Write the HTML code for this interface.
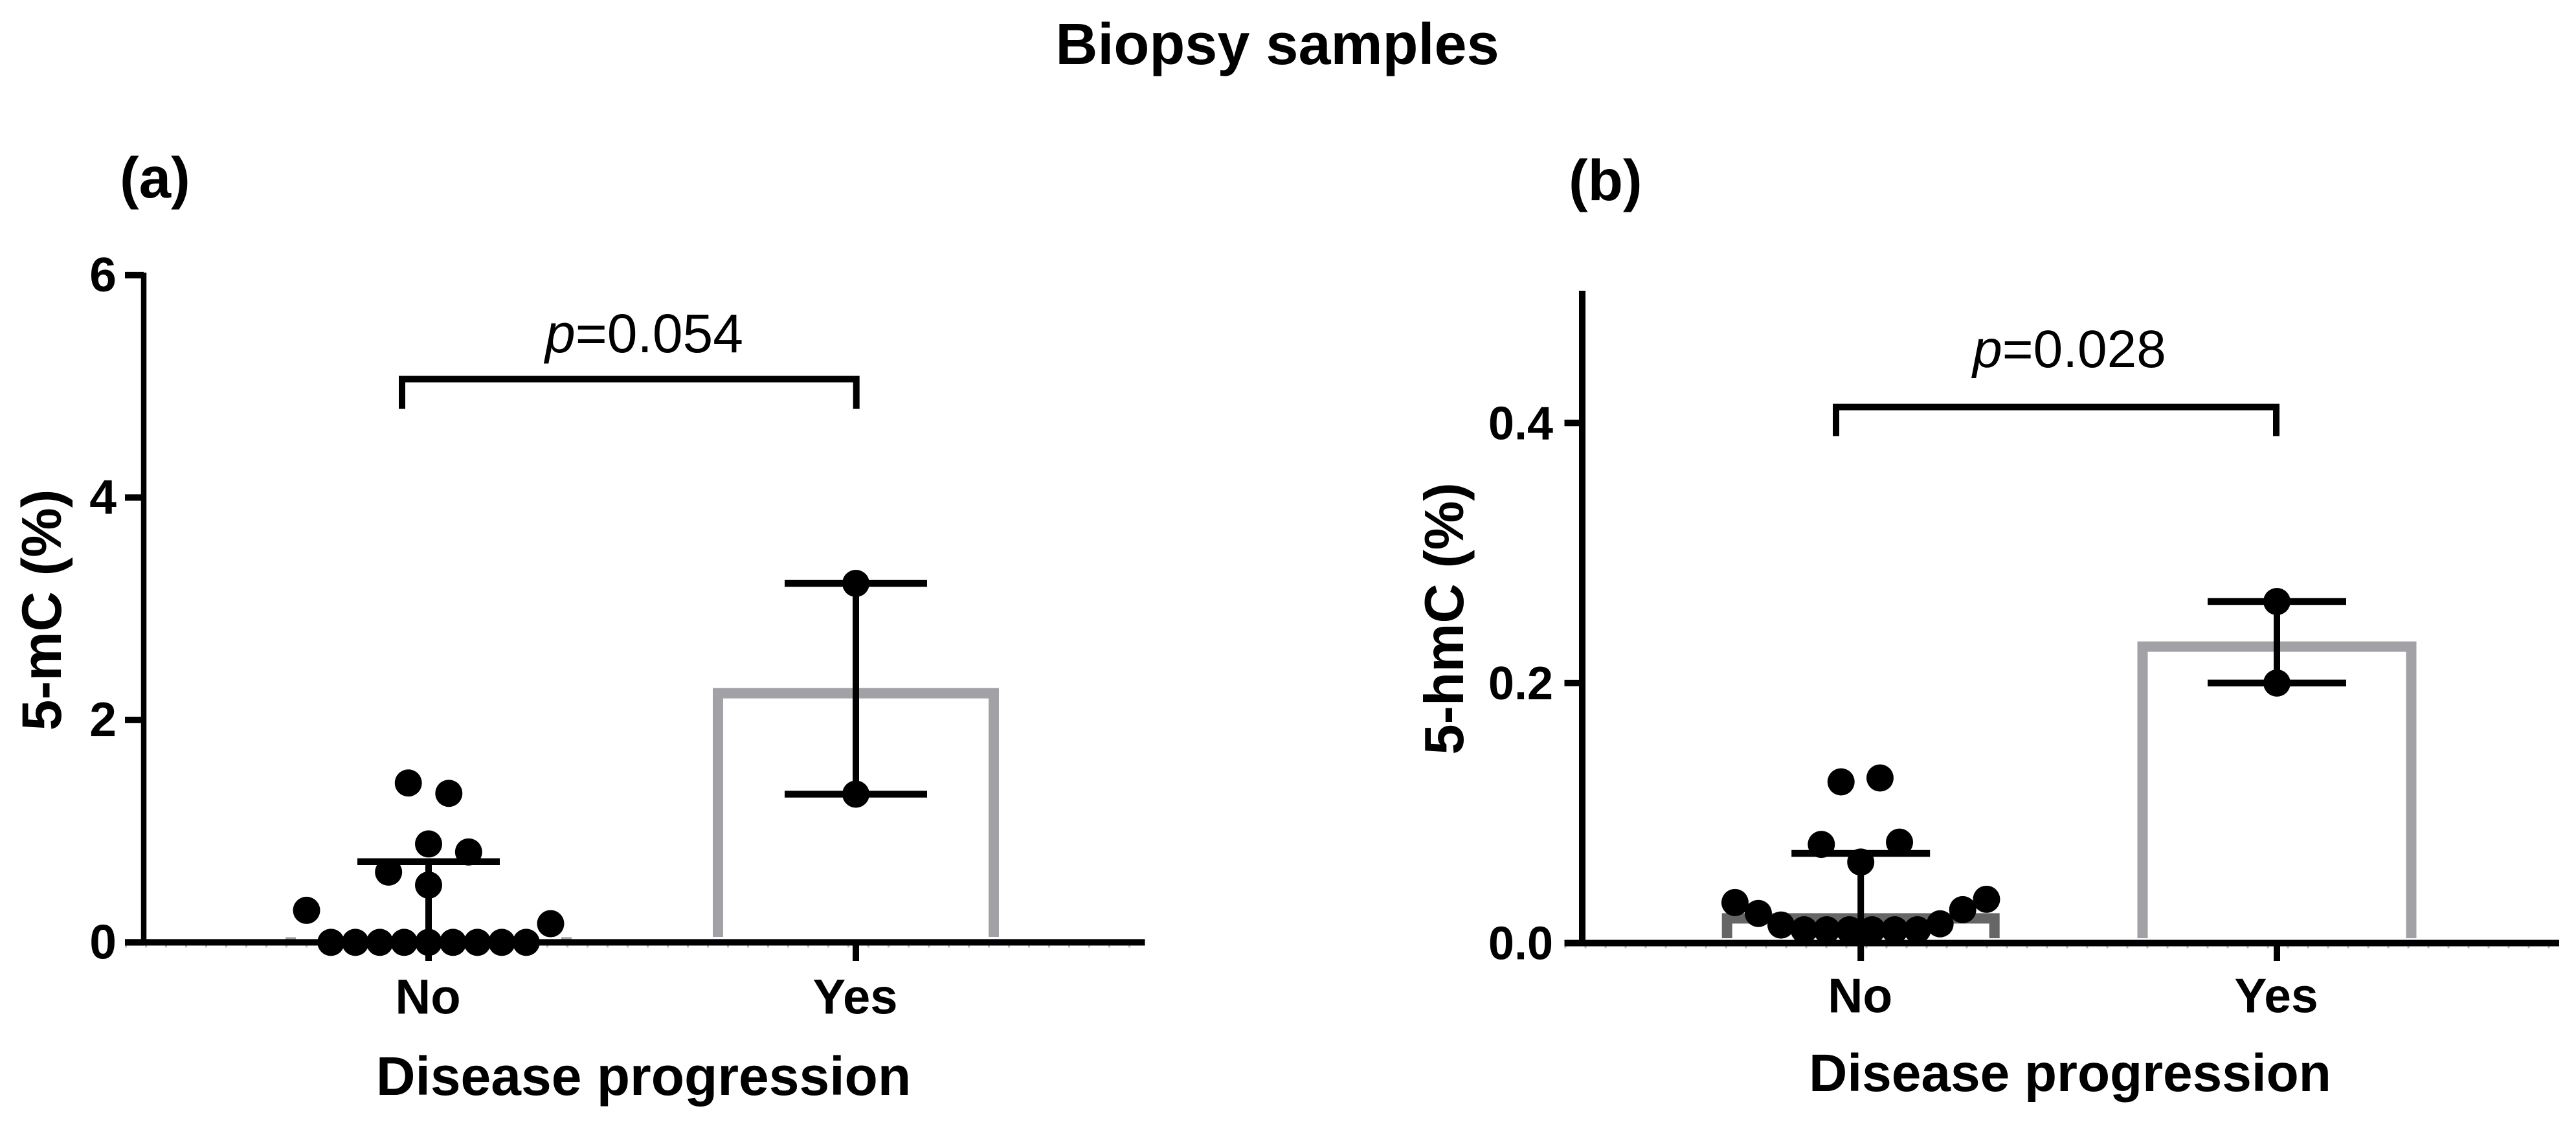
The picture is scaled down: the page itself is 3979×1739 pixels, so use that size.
<!DOCTYPE html>
<html lang="en">
<head>
<meta charset="utf-8">
<title>Biopsy samples</title>
<style>
html,body{margin:0;padding:0;background:#fff;}
svg{display:block;}
text{font-family:"Liberation Sans",Arial,sans-serif;fill:#000;}
.b{font-weight:bold;}
</style>
</head>
<body>
<svg id="chart" xmlns="http://www.w3.org/2000/svg" width="3979" height="1739" viewBox="0 0 3979 1739">
  <rect x="0" y="0" width="3979" height="1739" fill="#fff"/>
  <text class="b" x="1973" y="99" font-size="90" text-anchor="middle">Biopsy samples</text>
  <text class="b" x="185" y="305" font-size="89">(a)</text>
  <text class="b" x="2423" y="309" font-size="89">(b)</text>
  <g id="panel-a"></g>
  <g id="panel-b"></g>
  <text class="b" font-size="86" text-anchor="middle" transform="translate(94 942) rotate(-90)">5-mC (%)</text>
  <text class="b" font-size="85" text-anchor="middle" transform="translate(2260 955.5) rotate(-90)">5-hmC (%)</text>
  <text class="b" x="994" y="1691" font-size="84" text-anchor="middle">Disease progression</text>
  <text class="b" x="3197.5" y="1685" font-size="82" text-anchor="middle">Disease progression</text>
  <text x="995" y="544" font-size="84" text-anchor="middle"><tspan font-style="italic">p</tspan>=0.054</text>
  <text x="3196.5" y="567" font-size="82" text-anchor="middle"><tspan font-style="italic">p</tspan>=0.028</text>
</svg>
<script>
const categories = ['No', 'Yes'];

const yTickValuesA = [0, 2, 4, 6];
const yTickLabelsA = ['0', '2', '4', '6'];
const barMeansA = [0, 2.24];
const errorLowA = [0, 1.333];
const errorHighA = [0.726, 3.228];
const pointsNoA = [1.433, 1.34, 0.885, 0.813, 0.632, 0.515, 0.288, 0.168, 0, 0, 0, 0, 0, 0, 0, 0, 0];
const swarmNoA = [-0.83, 0.83, 0, 1.64, -1.64, 0, -5, 5, -4, -3, -2, -1, 0, 1, 2, 3, 4];
const pointsYesA = [3.228, 1.333];
const swarmYesA = [0, 0];

const yTickValuesB = [0, 0.2, 0.4];
const yTickLabelsB = ['0.0', '0.2', '0.4'];
const barMeansB = [0.019, 0.228];
const errorLowB = [0, 0.2];
const errorHighB = [0.069, 0.2627];
const pointsNoB = [0.127, 0.124, 0.0776, 0.0759, 0.0623, 0.0312, 0.0337, 0.0228, 0.0257, 0.0139, 0.0148, 0.0102, 0.0102, 0.0102, 0.0102, 0.0102, 0.0102];
const swarmNoB = [0.85, -0.87, 1.71, -1.74, 0, -5.55, 5.55, -4.52, 4.5, -3.52, 3.5, -2.5, -1.5, -0.5, 0.5, 1.5, 2.5];
const pointsYesB = [0.2627, 0.2];
const swarmYesB = [0, 0];

const NS = 'http://www.w3.org/2000/svg';

function mk(parent, tag, attrs) {
  const el = document.createElementNS(NS, tag);
  for (const k in attrs) el.setAttribute(k, attrs[k]);
  parent.appendChild(el);
  return el;
}

function barPath(cx, half, top, foot, y0, hasTop) {
  const w = 16;
  const L = cx - half - w / 2;
  const R = cx + half + w / 2;
  const T = top - w / 2;
  if (hasTop) {
    return 'M' + L + ' ' + foot + 'V' + T + 'H' + R + 'V' + foot + 'H' + (R - w) + 'V' + (T + w) + 'H' + (L + w) + 'V' + foot + 'Z';
  }
  return 'M' + L + ' ' + T + 'H' + (L + w) + 'V' + y0 + 'H' + L + 'Z' + 'M' + (R - w) + ' ' + T + 'H' + R + 'V' + y0 + 'H' + (R - w) + 'Z';
}

function drawPanel(cfg) {
  const root = document.getElementById(cfg.id);
  const y = v => cfg.y0 - cfg.unit * v;
  const x = i => cfg.catX[i];

  cfg.means.forEach((m, i) => {
    const d = barPath(x(i), cfg.barHalf[i], y(m), cfg.barFoot, cfg.y0, m > 0);
    const bar = mk(root, 'path', {d: d, fill: cfg.barColor[i]});
    
    
  });

  const yAxis = mk(root, 'line', {x1: cfg.axisX, x2: cfg.axisX, y1: cfg.axisTop, y2: cfg.y0, stroke: '#000', 'stroke-width': cfg.axisW});
  
  

  const minor = mk(root, 'line', {x1: cfg.tickLeft, x2: cfg.axisEnd, y1: cfg.y0 + 6.5, y2: cfg.y0 + 6.5, stroke: '#bdbdbd', 'stroke-width': 3, 'stroke-dasharray': '3 28'});
  
  

  const xAxis = mk(root, 'line', {x1: cfg.tickLeft, x2: cfg.axisEnd, y1: cfg.y0, y2: cfg.y0, stroke: '#000', 'stroke-width': 10});
  
  

  cfg.tickValues.forEach((v, i) => {
    const t = mk(root, 'line', {x1: cfg.tickLeft, x2: cfg.axisX, y1: y(v), y2: y(v), stroke: '#000', 'stroke-width': 10});
    
    
    const lab = mk(root, 'text', {x: cfg.labelRight, y: y(v) + 25, 'font-size': cfg.tickFont, 'font-weight': 'bold', 'text-anchor': 'end'});
    lab.textContent = cfg.tickLabels[i];
    
    
  });

  categories.forEach((c, i) => {
    const t = mk(root, 'line', {x1: x(i), x2: x(i), y1: cfg.y0, y2: 1484, stroke: '#000', 'stroke-width': 10});
    
    
    const lab = mk(root, 'text', {x: x(i) - 1, y: cfg.catBase, 'font-size': cfg.catFont, 'font-weight': 'bold', 'text-anchor': 'middle'});
    lab.textContent = c;
    
    
  });

  categories.forEach((c, i) => {
    const stem = mk(root, 'line', {x1: x(i), x2: x(i), y1: y(cfg.errLow[i]), y2: y(cfg.errHigh[i]), stroke: '#000', 'stroke-width': 10});
    
    
    const hi = mk(root, 'line', {x1: x(i) - cfg.capHalf, x2: x(i) + cfg.capHalf, y1: y(cfg.errHigh[i]), y2: y(cfg.errHigh[i]), stroke: '#000', 'stroke-width': 10.5});
    
    
    if (cfg.errLow[i] > 0) {
      const lo = mk(root, 'line', {x1: x(i) - cfg.capHalf, x2: x(i) + cfg.capHalf, y1: y(cfg.errLow[i]), y2: y(cfg.errLow[i]), stroke: '#000', 'stroke-width': 10.5});
      
      
    }
  });

  cfg.points.forEach((vals, i) => {
    vals.forEach((v, j) => {
      const dot = mk(root, 'circle', {cx: x(i) + cfg.swarm[i][j] * cfg.slot, cy: y(v), r: 21, fill: '#000'});
      
      
    });
  });

  const bracket = mk(root, 'path', {d: 'M' + cfg.bracket[0] + ' ' + cfg.bracket[3] + 'V' + cfg.bracket[2] + 'H' + cfg.bracket[1] + 'V' + cfg.bracket[3], fill: 'none', stroke: '#000', 'stroke-width': 10});
  
  
}

drawPanel({
  id: 'panel-a', y0: 1455.4, unit: 171.75, axisX: 222, axisW: 8.5, axisTop: 421, tickLeft: 193, axisEnd: 1768.5,
  labelRight: 180, tickFont: 75, catFont: 76, catBase: 1565.5, catX: [662, 1322], barHalf: [213, 213],
  barColor: ['#a2a2a6', '#a2a2a6'], barFoot: 1447, capHalf: 110, slot: 37.7,
  tickValues: yTickValuesA, tickLabels: yTickLabelsA, means: barMeansA, errLow: errorLowA, errHigh: errorHighA,
  points: [pointsNoA, pointsYesA], swarm: [swarmNoA, swarmYesA], bracket: [621, 1322.7, 585.5, 631.5]
});

drawPanel({
  id: 'panel-b', y0: 1456.5, unit: 2008, axisX: 2444, axisW: 10, axisTop: 449, tickLeft: 2416.5, axisEnd: 3953,
  labelRight: 2399, tickFont: 72, catFont: 75, catBase: 1563.5, catX: [2874.2, 3517], barHalf: [206.5, 207.5],
  barColor: ['#666666', '#a2a2a6'], barFoot: 1449, capHalf: 107, slot: 35,
  tickValues: yTickValuesB, tickLabels: yTickLabelsB, means: barMeansB, errLow: errorLowB, errHigh: errorHighB,
  points: [pointsNoB, pointsYesB], swarm: [swarmNoB, swarmYesB], bracket: [2836, 3516, 628.6, 673.5]
});
</script>
</body>
</html>
